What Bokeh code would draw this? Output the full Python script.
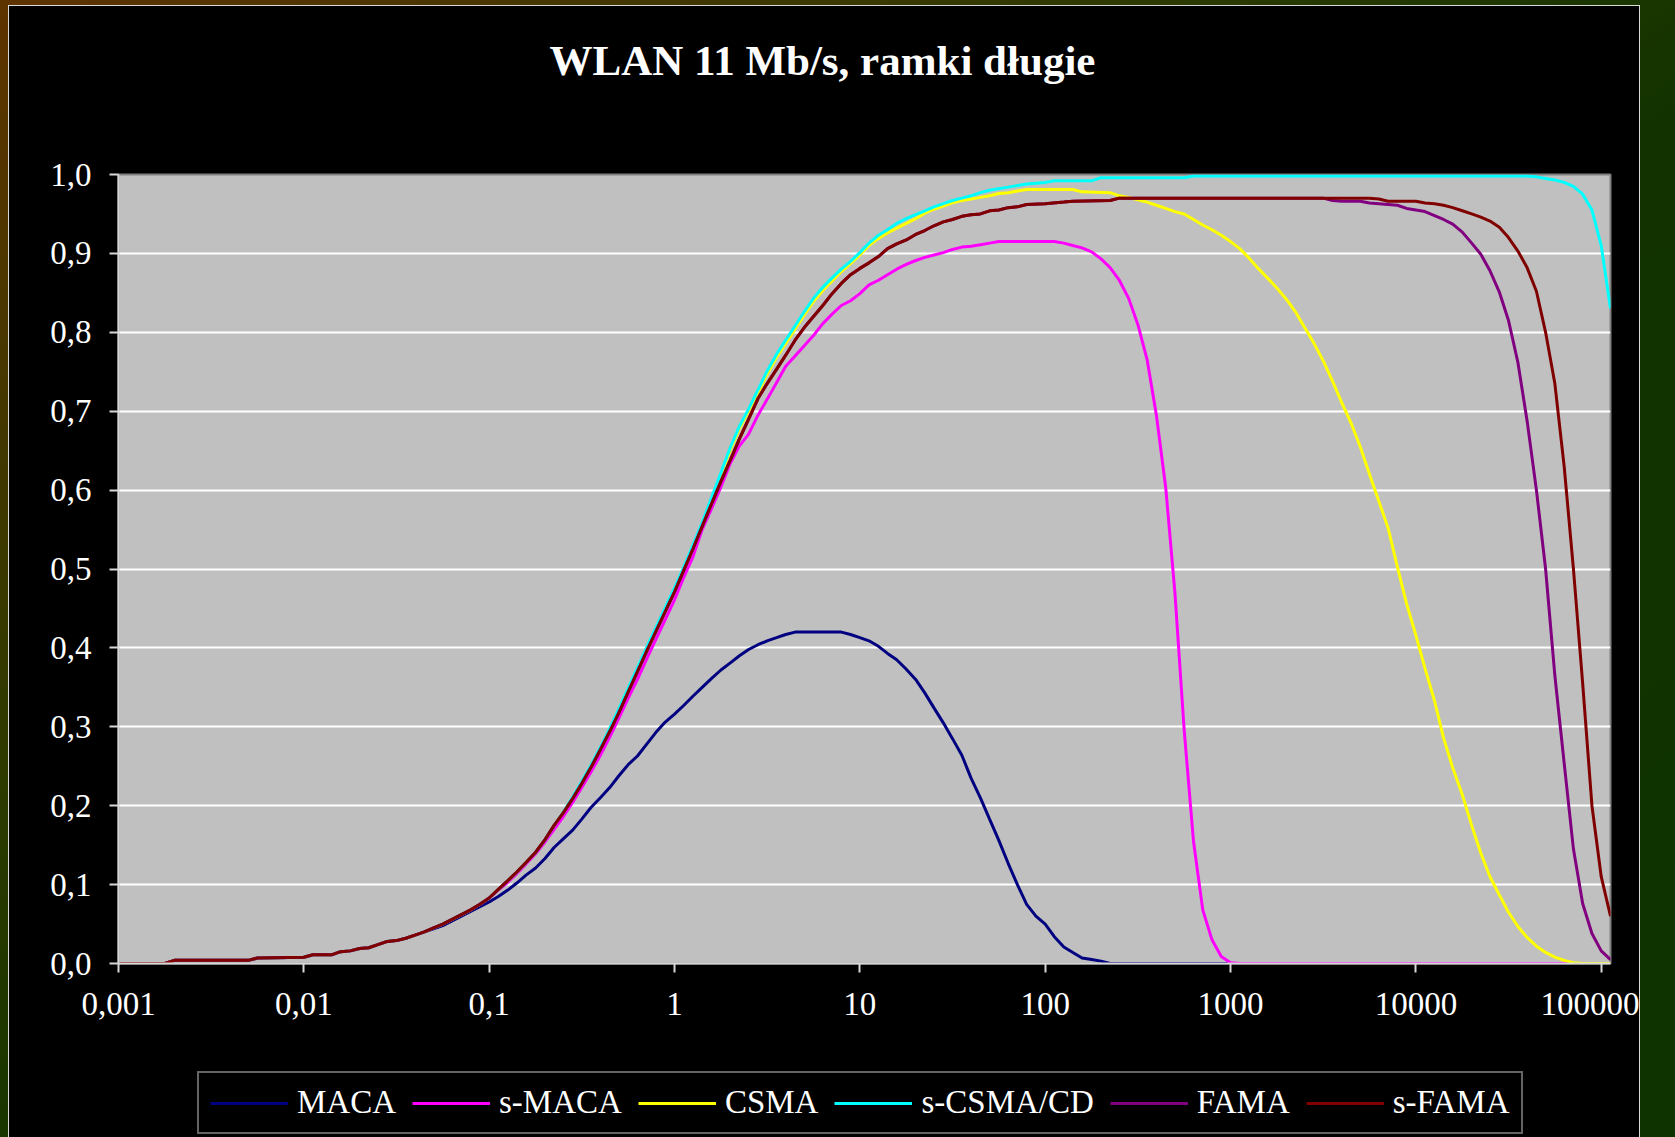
from bokeh.plotting import figure
from bokeh.models import Range1d, FixedTicker, Legend, LegendItem, Title
from bokeh.layouts import column
from bokeh.embed import file_html
from bokeh.resources import INLINE

# ---- data: offered load (log scale) vs. throughput --------------------------
# low-load section shared by s-MACA, CSMA, s-CSMA/CD, FAMA and s-FAMA
LOAD_LOW = [0.001, 0.00178, 0.002, 0.00501, 0.00562, 0.01, 0.0112, 0.0141,
            0.0158, 0.0178, 0.02, 0.0224, 0.0251, 0.0282, 0.0316, 0.0355,
            0.0398, 0.0447, 0.0501, 0.0562, 0.0631, 0.0708, 0.0794, 0.0891]
THR_LOW = [0.000, 0.000, 0.004, 0.004, 0.007, 0.008, 0.011, 0.011,
           0.015, 0.016, 0.019, 0.020, 0.024, 0.028, 0.029, 0.032,
           0.036, 0.040, 0.045, 0.050, 0.056, 0.062, 0.068, 0.075]

MACA_LOAD = [0.0447, 0.0501, 0.0562, 0.0631, 0.0708, 0.0794, 0.0891, 0.1,
             0.112, 0.126, 0.141, 0.158, 0.178, 0.2, 0.224, 0.251, 0.282,
             0.316, 0.355, 0.398, 0.447, 0.501, 0.562, 0.631, 0.708, 0.794,
             0.891, 1, 1.12, 1.26, 1.41, 1.58, 1.78, 2, 2.24, 2.51, 2.82,
             3.16, 3.55, 3.98, 4.47, 7.94, 8.91, 10, 11.2, 12.6, 14.1, 15.8,
             17.8, 20, 22.4, 25.1, 28.2, 31.6, 35.5, 39.8, 44.7, 50.1, 56.2,
             63.1, 70.8, 79.4, 89.1, 100, 112, 126, 141, 158, 178, 200, 224,
             112200]
MACA_THR = [0.040, 0.044, 0.048, 0.054, 0.060, 0.066, 0.072, 0.078,
            0.085, 0.093, 0.102, 0.112, 0.121, 0.133, 0.147, 0.158, 0.169,
            0.183, 0.198, 0.210, 0.223, 0.238, 0.252, 0.263, 0.278, 0.293,
            0.306, 0.316, 0.327, 0.339, 0.350, 0.361, 0.372, 0.381, 0.390, 0.398, 0.404,
            0.409, 0.413, 0.417, 0.420, 0.420, 0.417, 0.413, 0.409, 0.402, 0.393, 0.385,
            0.373, 0.360, 0.343, 0.324, 0.305, 0.285, 0.264, 0.235, 0.210, 0.183, 0.156,
            0.127, 0.100, 0.075, 0.060, 0.050, 0.034, 0.021, 0.014, 0.007, 0.005, 0.003, 0.000,
            0.000]

SMACA_LOAD = [0.1, 0.112, 0.126, 0.141, 0.158, 0.178, 0.2, 0.224, 0.251,
              0.282, 0.316, 0.355, 0.398, 0.447, 0.501, 0.562, 0.631, 0.708,
              0.794, 0.891, 1, 1.12, 1.26, 1.41, 1.58, 1.78, 2, 2.24, 2.51,
              2.82, 3.16, 3.55, 3.98, 4.47, 5.01, 5.62, 6.31, 7.08, 7.94,
              8.91, 10, 11.2, 12.6, 14.1, 15.8, 17.8, 20, 22.4, 25.1, 28.2,
              31.6, 35.5, 39.8, 44.7, 50.1, 56.2, 112, 126, 141, 158, 178,
              200, 224, 251, 282, 316, 355, 398, 447, 501, 562, 631, 708, 794,
              891, 1000, 1120, 112200]
SMACA_THR = [0.083, 0.093, 0.103, 0.114, 0.126, 0.139, 0.154, 0.170, 0.186,
             0.204, 0.223, 0.243, 0.264, 0.287, 0.311, 0.336, 0.360, 0.386,
             0.411, 0.436, 0.461, 0.489, 0.516, 0.550, 0.576, 0.604, 0.634, 0.656, 0.671,
             0.695, 0.715, 0.736, 0.757, 0.770, 0.783, 0.796, 0.811, 0.823, 0.834,
             0.840, 0.849, 0.860, 0.866, 0.873, 0.880, 0.886, 0.891, 0.895, 0.898, 0.901,
             0.905, 0.908, 0.909, 0.911, 0.913, 0.915, 0.915, 0.913, 0.910, 0.907, 0.902,
             0.893, 0.882, 0.866, 0.843, 0.810, 0.765, 0.695, 0.603, 0.470, 0.296, 0.155, 0.068, 0.030,
             0.009, 0.001, 0.000, 0.000]

CSMA_LOAD = [0.1, 0.112, 0.126, 0.141, 0.158, 0.178, 0.2, 0.224, 0.251,
             0.282, 0.316, 0.355, 0.398, 0.447, 0.501, 0.562, 0.631, 0.708,
             0.794, 0.891, 1, 1.12, 1.26, 1.41, 1.58, 1.78, 2, 2.24, 2.51,
             2.82, 3.16, 3.55, 3.98, 4.47, 5.01, 5.62, 6.31, 7.08, 7.94,
             8.91, 10, 11.2, 12.6, 14.1, 15.8, 17.8, 20, 22.4, 25.1, 28.2,
             31.6, 35.5, 39.8, 44.7, 50.1, 56.2, 63.1, 70.8, 79.4, 141, 158,
             224, 251, 282, 316, 355, 398, 447, 501, 562, 631, 708, 794, 891,
             1000, 1120, 1260, 1410, 1580, 1780, 2000, 2240, 2510, 2820, 3160,
             3550, 3980, 4470, 5010, 5620, 6310, 7080, 7940, 8910, 10000,
             11200, 12600, 14100, 15800, 17800, 20000, 22400, 25100, 28200,
             31600, 35500, 39800, 44700, 50100, 56200, 63100, 70800, 79400,
             112200]
CSMA_THR = [0.083, 0.094, 0.105, 0.116, 0.128, 0.141, 0.157, 0.175, 0.192,
            0.210, 0.230, 0.251, 0.273, 0.297, 0.322, 0.348, 0.374, 0.400,
            0.425, 0.449, 0.474, 0.500, 0.529, 0.557, 0.588, 0.619, 0.651, 0.678, 0.700,
            0.723, 0.747, 0.768, 0.786, 0.804, 0.822, 0.839, 0.853, 0.865, 0.877,
            0.887, 0.898, 0.910, 0.919, 0.926, 0.932, 0.938, 0.944, 0.951, 0.956, 0.960,
            0.964, 0.967, 0.969, 0.971, 0.973, 0.976, 0.977, 0.979, 0.981, 0.981, 0.978,
            0.977, 0.973, 0.971, 0.968, 0.965, 0.961, 0.957, 0.953, 0.950, 0.943, 0.936, 0.930, 0.923,
            0.915, 0.906, 0.894, 0.881, 0.869, 0.856, 0.842, 0.826, 0.806, 0.786, 0.764,
            0.738, 0.711, 0.685, 0.655, 0.620, 0.586, 0.552, 0.503, 0.456, 0.416,
            0.374, 0.333, 0.286, 0.248, 0.214, 0.175, 0.140, 0.110, 0.087,
            0.065, 0.047, 0.033, 0.022, 0.014, 0.008, 0.004, 0.001, 0.000,
            0.000]

SCSMA_LOAD = [0.1, 0.112, 0.126, 0.141, 0.158, 0.178, 0.2, 0.224, 0.251,
              0.282, 0.316, 0.355, 0.398, 0.447, 0.501, 0.562, 0.631, 0.708,
              0.794, 0.891, 1, 1.12, 1.26, 1.41, 1.58, 1.78, 2, 2.24, 2.51,
              2.82, 3.16, 3.55, 3.98, 4.47, 5.01, 5.62, 6.31, 7.08, 7.94,
              8.91, 10, 11.2, 12.6, 14.1, 15.8, 17.8, 20, 22.4, 25.1, 28.2,
              31.6, 35.5, 39.8, 44.7, 50.1, 63.1, 79.4, 100, 112, 178, 200,
              562, 631, 39800, 44700, 50100, 56200, 63100, 70800, 79400,
              89100, 100000, 112200]
SCSMA_THR = [0.083, 0.094, 0.105, 0.116, 0.128, 0.141, 0.157, 0.175, 0.192,
             0.211, 0.231, 0.252, 0.274, 0.298, 0.323, 0.349, 0.375, 0.401,
             0.426, 0.451, 0.476, 0.502, 0.531, 0.559, 0.590, 0.622, 0.654, 0.681, 0.703,
             0.727, 0.751, 0.772, 0.790, 0.808, 0.826, 0.843, 0.857, 0.869, 0.880,
             0.890, 0.901, 0.913, 0.923, 0.930, 0.938, 0.944, 0.949, 0.954, 0.959, 0.963,
             0.967, 0.970, 0.973, 0.977, 0.980, 0.984, 0.988, 0.990, 0.992, 0.992, 0.996,
             0.996, 0.998, 0.998, 0.997, 0.995, 0.993, 0.990, 0.985, 0.975,
             0.955, 0.910, 0.830]

SFAMA_LOAD = [0.1, 0.112, 0.126, 0.141, 0.158, 0.178, 0.2, 0.224, 0.251,
              0.282, 0.316, 0.355, 0.398, 0.447, 0.501, 0.562, 0.631, 0.708,
              0.794, 0.891, 1, 1.12, 1.26, 1.41, 1.58, 1.78, 2, 2.24, 2.51,
              2.82, 3.16, 3.55, 3.98, 4.47, 5.01, 5.62, 6.31, 7.08, 7.94,
              8.91, 10, 11.2, 12.6, 14.1, 15.8, 17.8, 20, 22.4, 25.1, 28.2,
              31.6, 35.5, 39.8, 44.7, 50.1, 56.2, 63.1, 70.8, 79.4, 100, 126,
              141, 224, 251, 5620, 6310, 7080, 10000, 11200, 12600, 14100,
              15800, 17800, 20000, 22400, 25100, 28200, 31600, 35500, 39800,
              44700, 50100, 56200, 63100, 70800, 79400, 89100, 100000, 112200]
SFAMA_THR = [0.083, 0.094, 0.105, 0.116, 0.128, 0.141, 0.157, 0.175, 0.191,
             0.209, 0.228, 0.249, 0.271, 0.294, 0.318, 0.344, 0.370, 0.396,
             0.421, 0.446, 0.471, 0.498, 0.526, 0.554, 0.582, 0.611, 0.638, 0.665, 0.690,
             0.716, 0.735, 0.753, 0.771, 0.790, 0.806, 0.820, 0.834, 0.849, 0.862,
             0.873, 0.881, 0.888, 0.896, 0.906, 0.912, 0.917, 0.924, 0.929, 0.935, 0.940,
             0.943, 0.947, 0.949, 0.950, 0.954, 0.955, 0.958, 0.959, 0.962, 0.963, 0.965,
             0.966, 0.967, 0.970, 0.970, 0.969, 0.966, 0.966, 0.964, 0.963, 0.961,
             0.958, 0.954, 0.950, 0.946, 0.941, 0.933, 0.920, 0.903, 0.882,
             0.852, 0.800, 0.735, 0.630, 0.500, 0.355, 0.200, 0.110, 0.060]

# FAMA runs under s-FAMA up to 251, then falls off earlier
FAMA_LOAD = [3160, 3550, 3980, 5010, 5620, 6310, 7940, 8910, 10000, 11200,
             12600, 14100, 15800, 17800, 20000, 22400, 25100, 28200, 31600,
             35500, 39800, 44700, 50100, 56200, 63100, 70800, 79400, 89100,
             100000, 112200]
FAMA_THR = [0.970, 0.967, 0.966, 0.966, 0.964, 0.963, 0.961, 0.957, 0.955, 0.953,
            0.948, 0.943, 0.937, 0.927, 0.913, 0.899, 0.878, 0.851, 0.815,
            0.762, 0.688, 0.600, 0.500, 0.365, 0.254, 0.145, 0.076, 0.038,
            0.016, 0.005]

X_TICKS = [0.001, 0.01, 0.1, 1, 10, 100, 1000, 10000, 100000]
X_LABELS = ["0,001", "0,01", "0,1", "1", "10", "100", "1000", "10000", "100000"]
Y_TICKS = [0.0, 0.1, 0.2, 0.3, 0.4, 0.5, 0.6, 0.7, 0.8, 0.9, 1.0]
Y_LABELS = ["0,0", "0,1", "0,2", "0,3", "0,4", "0,5", "0,6", "0,7", "0,8", "0,9", "1,0"]

NAMES = ["MACA", "s-MACA", "CSMA", "s-CSMA/CD", "FAMA", "s-FAMA"]
COLORS = ["#000080", "#ff00ff", "#ffff00", "#00ffff", "#800080", "#800000"]

# ---- assemble series ---------------------------------------------------------
n_maca = LOAD_LOW.index(0.0398) + 1
k_fama = SFAMA_LOAD.index(251) + 1
series = [
    (LOAD_LOW[:n_maca] + MACA_LOAD, THR_LOW[:n_maca] + MACA_THR),
    (LOAD_LOW + SMACA_LOAD, THR_LOW + SMACA_THR),
    (LOAD_LOW + CSMA_LOAD, THR_LOW + CSMA_THR),
    (LOAD_LOW + SCSMA_LOAD, THR_LOW + SCSMA_THR),
    (LOAD_LOW + SFAMA_LOAD[:k_fama] + FAMA_LOAD, THR_LOW + SFAMA_THR[:k_fama] + FAMA_THR),
    (LOAD_LOW + SFAMA_LOAD, THR_LOW + SFAMA_THR),
]

SERIF = "Liberation Serif"
W = 1630
H_PLOT = 1037
H_LEGEND = 94

# ---- main chart ----------------------------------------------------------------
p = figure(width=W, height=H_PLOT, x_axis_type="log",
           x_range=Range1d(0.001, 112200), y_range=Range1d(0.0, 1.0),
           output_backend="svg", toolbar_location=None,
           min_border_left=109, min_border_right=29,
           min_border_top=168, min_border_bottom=H_PLOT - 957,
           background_fill_color="#c0c0c0", border_fill_color="black",
           outline_line_color="#808080", outline_line_width=2)

p.title.text = "WLAN 11 Mb/s, ramki długie"
p.title.align = "left"
p.title.offset = 431
p.title.text_font = SERIF
p.title.text_font_style = "bold"
p.title.text_font_size = "43px"
p.title.text_color = "white"
p.title.standoff = 10
# empty band between the heading and the plot area
p.add_layout(Title(text=" ", text_font_size="1px", standoff=83), "above")

p.xgrid.visible = False
p.ygrid.grid_line_color = "white"
p.ygrid.grid_line_width = 2

p.xaxis.ticker = FixedTicker(ticks=X_TICKS)
p.xaxis.major_label_overrides = dict(zip(X_TICKS, X_LABELS))
p.yaxis.ticker = FixedTicker(ticks=Y_TICKS)
p.yaxis.major_label_overrides = dict(zip(Y_TICKS, Y_LABELS))
for ax in (p.xaxis[0], p.yaxis[0]):
    ax.axis_line_color = "#d8d8d8"
    ax.axis_line_width = 2
    ax.major_tick_line_color = "#d8d8d8"
    ax.major_tick_line_width = 2
    ax.major_tick_in = 0
    ax.major_tick_out = 9
    ax.minor_tick_line_color = None
    ax.major_label_text_font = SERIF
    ax.major_label_text_font_size = "33px"
    ax.major_label_text_color = "white"
p.xaxis.major_label_standoff = 20
p.yaxis.major_label_standoff = 18

for (xs, ys), color in zip(series, COLORS):
    p.line(xs, ys, line_color=color, line_width=3)

# ---- legend strip under the chart (frame aligned with the chart's frame) ----
q = figure(width=W, height=H_LEGEND, x_range=Range1d(0, 1), y_range=Range1d(0, 1),
           output_backend="svg", toolbar_location=None,
           x_axis_location=None, y_axis_location=None,
           min_border_left=0, min_border_right=0, min_border_top=0, min_border_bottom=0,
           background_fill_color=None, border_fill_color=None,
           outline_line_color=None)
q.xgrid.visible = False
q.ygrid.visible = False
items = []
for name, color in zip(NAMES, COLORS):
    # key swatch only: a single undefined point, so nothing is plotted
    r = q.line([float("nan")], [float("nan")], line_color=color, line_width=3)
    items.append(LegendItem(label=name, renderers=[r]))
legend = Legend(items=items, orientation="horizontal", location=(79, 3),
                background_fill_color="black", background_fill_alpha=1.0,
                border_line_color="#c8c8c8", border_line_width=2,
                label_text_font=SERIF, label_text_font_size="33px",
                label_text_color="white", glyph_width=78, glyph_height=30,
                label_standoff=9, spacing=16, padding=11, margin=0)
q.add_layout(legend)

chart = column(p, q, width=W, height=H_PLOT + H_LEGEND, spacing=0,
               margin=(6, 0, 0, 9),
               styles={"outline": "1px solid #d9d9d9", "background": "black"})

page = column(chart, width=1675, height=1137,
              styles={"background": "linear-gradient(to bottom right, #5e3300 0%, #2c3a00 35%, #123300 55%, #0e3300 100%)"})

open("out.html", "w", encoding="utf-8").write(file_html(page, INLINE))
